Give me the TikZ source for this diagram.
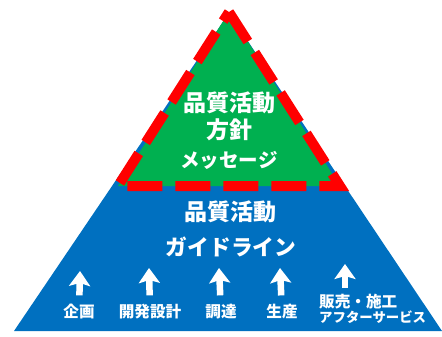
\documentclass[tikz,border=0pt]{standalone}
\usepackage{fontspec}
\setmainfont{Noto Sans CJK JP}
\usetikzlibrary{arrows.meta,positioning}
\definecolor{pyrblue}{RGB}{0,112,192}
\definecolor{pyrgreen}{RGB}{0,176,80}
\definecolor{pyrred}{RGB}{255,0,0}

\begin{document}
\begin{tikzpicture}[% styles for the whole pyramid
			x=1pt,y=-1pt,		% work in pixels, y going down
			every node/.style={
				text=white,
				inner sep=1pt,
				font=\bfseries
			},
			title/.style={font=\bfseries\fontsize{23}{26}\selectfont},
			stage/.style={font=\bfseries\fontsize{15.6}{18}\selectfont},
			uparrow/.style={draw=white,line width=6.5pt,arrows={-Stealth[width=21pt,length=15pt,inset=3pt]}}
		]
		\useasboundingbox (0,0) rectangle (442,337);
		% pyramid layers
		\fill[pyrblue] (14,331) -- (229,13) -- (442,331) -- cycle;
		\fill[pyrgreen] (118,186) -- (229,12) -- (340,186) -- cycle;
		\draw[pyrred,line width=10pt,dash pattern=on 35pt off 13pt] (229,12) -- (340,186) -- (118,186) -- cycle;
		% top texts
		\node[title](T1) at (229,103){品質活動};
		\node[title](T2) at (229,130){方針};
		\node[font=\bfseries\fontsize{19.5}{22}\selectfont](T3) at (229,160){メッセージ};
		% lower texts
		\node[title](G1) at (230,212){品質活動};
		\node[font=\bfseries\fontsize{21.7}{24}\selectfont](G2) at (231,247){ガイドライン};
		% stages
		\node[stage](L1) at (79,312){企画};
		\node[stage](L2) at (150,312){開発設計};
		\node[stage](L3) at (221,312){調達};
		\node[stage](L4) at (282,312){生産};
		\node[stage,anchor=north west,align=left](L5) at (318,293){販売・施工\\[-3pt]{\fontsize{13.4}{16}\selectfont アフターサービス}};
		\coordinate (A1) at (80,271);
		\coordinate (A2) at (149,268);
		\coordinate (A3) at (219,268);
		\coordinate (A4) at (280,268);
		\coordinate (A5) at (345,264);
		\draw[uparrow,shorten <=8pt] (L1) -- (A1);
		\draw[uparrow,shorten <=8pt] (L2) -- (A2);
		\draw[uparrow,shorten <=8pt] (L3) -- (A3);
		\draw[uparrow,shorten <=8pt] (L4) -- (A4);
		\draw[uparrow,shorten <=5pt] (L5.north -| A5) -- (A5);
	\end{tikzpicture}
\end{document}
